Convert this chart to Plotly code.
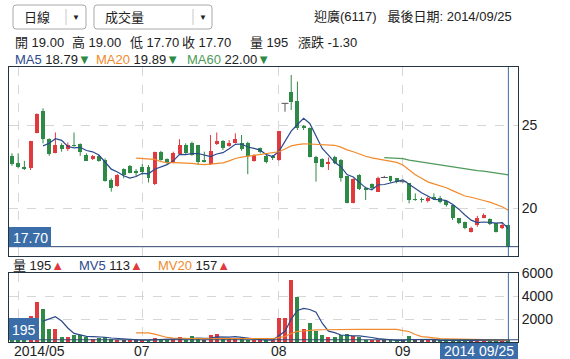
import plotly.graph_objects as go
import pandas as pd

# ---------------- data ----------------
opens = [23.15, 22.75, 22.50, 22.40, 24.55, 25.85, 24.15, 23.35, 23.80, 23.55,
         23.80, 23.85, 23.20, 22.95, 23.15, 22.90, 21.70, 21.35, 22.35, 22.55,
         22.25, 22.50, 22.50, 21.45, 23.40, 22.95, 22.75, 23.25, 23.80, 23.90,
         23.80, 22.90, 22.65, 23.85, 24.05, 23.75, 23.95, 23.95, 23.95, 22.85,
         23.60, 23.15, 23.15, 22.90, 26.30, 27.00, 26.45, 24.90, 24.80, 23.10,
         22.95, 22.70, 23.10, 22.90, 21.95, 20.35, 22.00, 21.25, 21.45, 21.00,
         21.85, 21.95, 21.80, 21.60, 21.50, 20.55, 20.55, 20.45, 20.65, 20.60,
         20.45, 20.20, 19.40, 19.20, 18.60, 19.00, 19.45, 19.35, 19.10, 18.85,
         19.00]
highs = [23.30, 23.30, 22.85, 24.05, 25.70, 26.00, 24.20, 24.55, 23.90, 23.95,
         24.55, 23.90, 23.30, 23.20, 23.20, 23.00, 21.80, 22.05, 22.40, 22.60,
         22.35, 22.65, 22.60, 23.40, 23.45, 23.00, 23.40, 24.15, 23.90, 24.00,
         23.80, 23.40, 24.40, 24.55, 24.10, 24.10, 24.50, 24.40, 24.00, 23.25,
         23.65, 23.20, 23.20, 24.65, 26.30, 28.00, 27.60, 25.00, 24.85, 23.15,
         23.00, 23.05, 23.15, 22.95, 21.95, 21.80, 22.05, 21.30, 21.50, 21.90,
         21.95, 21.95, 21.80, 21.60, 21.50, 20.90, 20.65, 20.70, 20.90, 20.75,
         20.45, 20.20, 19.40, 19.20, 18.90, 19.55, 19.70, 19.40, 19.10, 19.15,
         19.00]
lows = [22.55, 22.40, 22.30, 22.30, 24.50, 23.90, 23.15, 23.30, 23.40, 23.45,
        23.70, 23.15, 22.85, 22.90, 22.80, 21.60, 21.00, 21.30, 21.80, 22.10,
        21.90, 22.00, 21.55, 21.40, 22.85, 22.65, 22.70, 23.20, 23.20, 23.15,
        22.60, 22.75, 22.60, 23.80, 23.50, 23.70, 23.90, 23.45, 22.05, 22.80,
        23.30, 22.70, 22.90, 22.85, 25.80, 25.90, 24.70, 24.70, 23.05, 21.60,
        22.45, 22.30, 22.65, 21.60, 20.30, 20.30, 21.10, 20.50, 21.15, 21.00,
        21.85, 21.55, 21.50, 21.55, 20.30, 20.45, 20.35, 20.35, 20.50, 20.30,
        20.10, 19.30, 19.05, 18.75, 18.55, 18.90, 19.40, 19.00, 18.55, 18.75,
        17.70]
closes = [22.65, 22.50, 22.40, 24.05, 25.65, 24.15, 23.25, 23.80, 23.55, 23.80,
          23.75, 23.40, 22.85, 23.15, 22.85, 21.65, 21.25, 22.00, 22.00, 22.15,
          22.15, 22.20, 21.85, 23.40, 22.90, 22.75, 23.35, 23.80, 23.30, 23.20,
          22.80, 22.80, 23.45, 24.05, 23.60, 23.95, 24.15, 23.55, 23.15, 23.20,
          23.40, 22.80, 23.00, 24.65, 26.30, 26.40, 24.80, 24.85, 23.10, 22.70,
          22.50, 22.80, 22.70, 21.80, 20.35, 21.75, 21.15, 21.10, 21.20, 21.85,
          21.85, 21.65, 21.60, 21.60, 20.50, 20.50, 20.50, 20.60, 20.60, 20.40,
          20.20, 19.40, 19.15, 18.85, 18.85, 19.45, 19.60, 19.05, 18.60, 19.00,
          17.70]
volumes = [300, 250, 200, 2260, 3480, 2900, 1160, 1160, 435, 435,
           580, 580, 435, 300, 350, 400, 250, 200, 180, 150,
           130, 120, 200, 375, 300, 150, 250, 435, 200, 520,
           250, 150, 610, 720, 375, 300, 350, 250, 200, 150,
           120, 150, 180, 2110, 2110, 5390, 3915, 1100, 1625, 957,
           580, 460, 460, 580, 667, 500, 460, 175, 150, 200,
           150, 120, 100, 150, 560, 150, 120, 200, 150, 100,
           120, 200, 150, 100, 150, 210, 130, 90, 70, 80,
           195]
month_idx = [1, 21, 43, 63]
month_labels = ["2014/05", "07", "08", "09"]
price_ticks = [20, 25]
volume_ticks = [2000, 4000, 6000]
ma_windows = [5, 20, 60]
mv_windows = [5, 20]

# ---------------- styling ----------------
RED = "#e03a3e"
GREEN = "#2e8a46"
GRAY = "#555555"
MA_COL = {5: "#2b4a8c", 20: "#f08a2c", 60: "#4e9a58"}
FRAME = "#25323f"
BLUE = "#3b6ea8"
FONT = "Liberation Sans, Arial, Noto Sans CJK TC, sans-serif"
W, H = 570, 359
ML, MR, MT, MB = 9, 52, 67, 17
PW, PH = W - ML - MR, H - MT - MB


def px(xp):
    return (xp - ML) / PW


def py(yp):
    return (H - MB - yp) / PH


n = len(closes)
idx = list(range(n))
cl = pd.Series(closes)
vol = pd.Series(volumes)


def masked_ma(s, w):
    m = s.rolling(w).mean()
    m.iloc[:w] = None
    return m

fig = go.Figure()

# candle wicks
for col, cond in ((RED, lambda o, c: c > o), (GREEN, lambda o, c: c < o), (GRAY, lambda o, c: c == o)):
    xs, ys = [], []
    for i in idx:
        if cond(opens[i], closes[i]):
            xs += [i, i, None]
            ys += [lows[i], highs[i], None]
    fig.add_trace(go.Scatter(x=xs, y=ys, mode="lines", line=dict(color=col, width=1),
                             xaxis="x", yaxis="y", hoverinfo="skip", showlegend=False))

# candle bodies
body_col = [RED if c > o else (GREEN if c < o else GRAY) for o, c in zip(opens, closes)]
fig.add_trace(go.Bar(x=idx, y=[abs(c - o) for o, c in zip(opens, closes)],
                     base=[min(o, c) for o, c in zip(opens, closes)],
                     width=0.64, marker=dict(color=body_col, line=dict(width=0)),
                     xaxis="x", yaxis="y", showlegend=False, hoverinfo="skip"))
# doji marks
dx = [i for i in idx if opens[i] == closes[i]]
fig.add_trace(go.Scatter(x=dx, y=[closes[i] for i in dx], mode="markers",
                         marker=dict(symbol="line-ew", size=5, line=dict(color=GRAY, width=1)),
                         xaxis="x", yaxis="y", showlegend=False, hoverinfo="skip"))

for w in ma_windows:
    fig.add_trace(go.Scatter(x=idx, y=masked_ma(cl, w), mode="lines",
                             line=dict(color=MA_COL[w], width=1.2), xaxis="x", yaxis="y",
                             showlegend=False, hoverinfo="skip"))

# volume bars
vcol = [GREEN]
for i in range(1, n):
    vcol.append(RED if closes[i] > closes[i - 1] else (GREEN if closes[i] < closes[i - 1] else GRAY))
fig.add_trace(go.Bar(x=idx, y=volumes, width=0.64, marker=dict(color=vcol, line=dict(width=0)),
                     xaxis="x2", yaxis="y2", showlegend=False, hoverinfo="skip"))
for w in mv_windows:
    fig.add_trace(go.Scatter(x=idx, y=masked_ma(vol, w), mode="lines",
                             line=dict(color=MA_COL[w], width=1.2), xaxis="x2", yaxis="y2",
                             showlegend=False, hoverinfo="skip"))

xr = [-0.48, n - 1 + 1.55]
axis_common = dict(showline=True, mirror=True, linecolor=FRAME, linewidth=1, zeroline=False,
                   ticks="", showgrid=True, gridcolor="#d6d6d6", griddash="dash", gridwidth=1,
                   automargin=False)
fig.update_layout(
    width=W, height=H, margin=dict(l=ML, r=MR, t=MT, b=MB), autosize=False,
    paper_bgcolor="white", plot_bgcolor="white", barmode="overlay", bargap=0,
    font=dict(family=FONT, size=14, color="#222"),
    xaxis=dict(domain=[0, 1], range=xr, tickvals=month_idx, showticklabels=False,
               anchor="y", **axis_common),
    yaxis=dict(domain=[(H - MB - 256) / PH, 1], range=[17.14, 28.48], side="right",
               tickvals=price_ticks, anchor="x", **axis_common),
    xaxis2=dict(domain=[0, 1], range=xr, tickvals=month_idx, showticklabels=False, anchor="y2",
                **axis_common),
    yaxis2=dict(domain=[0, (H - MB - 273) / PH], range=[0, 6000], side="right",
                tickvals=volume_ticks, anchor="x2", **axis_common),
)

shapes = []
ann = []


def note(xp, yp, text, xa="center", size=13, color="#222"):
    ann.append(dict(x=px(xp), y=py(yp), xref="paper", yref="paper", text=text, xanchor=xa,
                    yanchor="middle", showarrow=False, font=dict(size=size, color=color)))

# month labels under the volume panel
for k, (mi, lab) in enumerate(zip(month_idx, month_labels)):
    if k == 0:
        note(12, 350.5, lab, xa="left", size=14)
    else:
        ann.append(dict(x=mi, y=py(350.5), xref="x2", yref="paper", text=lab, xanchor="center",
                        yanchor="middle", showarrow=False, font=dict(size=14, color="#222")))

# crosshair
last = n - 1
shapes.append(dict(type="line", xref="x", yref="paper", x0=last, x1=last, y0=py(256), y1=1,
                   line=dict(color=BLUE, width=1)))
shapes.append(dict(type="line", xref="x2", yref="paper", x0=last, x1=last, y0=0, y1=py(273),
                   line=dict(color=BLUE, width=1)))
shapes.append(dict(type="line", xref="paper", yref="y", x0=0, x1=1, y0=closes[-1], y1=closes[-1],
                   line=dict(color="#2e4a6e", width=1)))
shapes.append(dict(type="line", xref="paper", yref="y2", x0=0, x1=1, y0=volumes[-1], y1=volumes[-1],
                   line=dict(color="#2e4a6e", width=1)))
# value boxes
shapes.append(dict(type="rect", xref="paper", yref="paper", x0=px(9), x1=px(51), y0=py(247), y1=py(227),
                   fillcolor=BLUE, line=dict(width=0)))
note(30, 237.5, "%.2f" % closes[-1], size=14, color="white")
shapes.append(dict(type="rect", xref="paper", yref="paper", x0=px(9), x1=px(39), y0=py(340), y1=py(318),
                   fillcolor=BLUE, line=dict(width=0)))
note(24, 329.5, str(volumes[-1]), size=14, color="white")
shapes.append(dict(type="rect", xref="paper", yref="paper", x0=px(440), x1=px(518), y0=py(359), y1=py(343),
                   fillcolor=BLUE, line=dict(width=0)))
note(479, 350.5, "2014 09/25", size=14, color="white")


def rrect(x0, y0, x1, y1, r=3):
    X0, X1 = px(x0), px(x1)
    Y0, Y1 = py(y0), py(y1)
    rx, ry = r / PW, r / PH
    return (f"M{X0+rx},{Y0} L{X1-rx},{Y0} Q{X1},{Y0} {X1},{Y0-ry} L{X1},{Y1+ry} Q{X1},{Y1} {X1-rx},{Y1} "
            f"L{X0+rx},{Y1} Q{X0},{Y1} {X0},{Y1+ry} L{X0},{Y0-ry} Q{X0},{Y0} {X0+rx},{Y0} Z")

# dropdown boxes
for (x0, x1, dv, label) in ((13, 86, 66, "日線"), (94, 212, 193, "成交量")):
    shapes.append(dict(type="path", xref="paper", yref="paper", path=rrect(x0, 5, x1, 29),
                       line=dict(color="#a9a9a9", width=1), fillcolor="white"))
    shapes.append(dict(type="line", xref="paper", yref="paper", x0=px(dv), x1=px(dv), y0=py(9), y1=py(25),
                       line=dict(color="#c8c8c8", width=1)))
    note(x0 + 9, 17.5, label, xa="left")
    note((dv + x1) / 2, 17.5, "▼", size=8)

note(514, 16.5, "迎廣(6117)&nbsp;&nbsp;&nbsp;最後日期: 2014/09/25", xa="right")

chg = closes[-1] - closes[-2]
ohlc = [("開", "%.2f" % opens[-1], 13), ("高", "%.2f" % highs[-1], 70), ("低", "%.2f" % lows[-1], 128),
        ("收", "%.2f" % closes[-1], 180), ("量", str(volumes[-1]), 248), ("漲跌", "%.2f" % chg, 296)]
for lab, val, xp in ohlc:
    note(xp, 42.5, f"{lab} {val}", xa="left")

ma_pos = {5: 13, 20: 94, 60: 185}
for w in ma_windows:
    v = masked_ma(cl, w).iloc[-1]
    note(ma_pos[w], 59.5,
         f"<span style='color:{MA_COL[w]}'>MA{w}</span> {v:.2f}<span style='color:{GREEN}'>▼</span>",
         xa="left")

note(11, 265.5, f"量 {volumes[-1]}<span style='color:{RED}'>▲</span>", xa="left")
mv_pos = {5: 77, 20: 156}
for w in mv_windows:
    v = masked_ma(vol, w).iloc[-1]
    note(mv_pos[w], 265.5,
         f"<span style='color:{MA_COL[w]}'>MV{w}</span> {v:.0f}<span style='color:{RED}'>▲</span>",
         xa="left")

fig.update_layout(shapes=shapes, annotations=ann)
fig.write_html("out.html", config={"displayModeBar": False},
               post_script="document.body.style.margin='0';document.body.style.overflow='hidden';")
